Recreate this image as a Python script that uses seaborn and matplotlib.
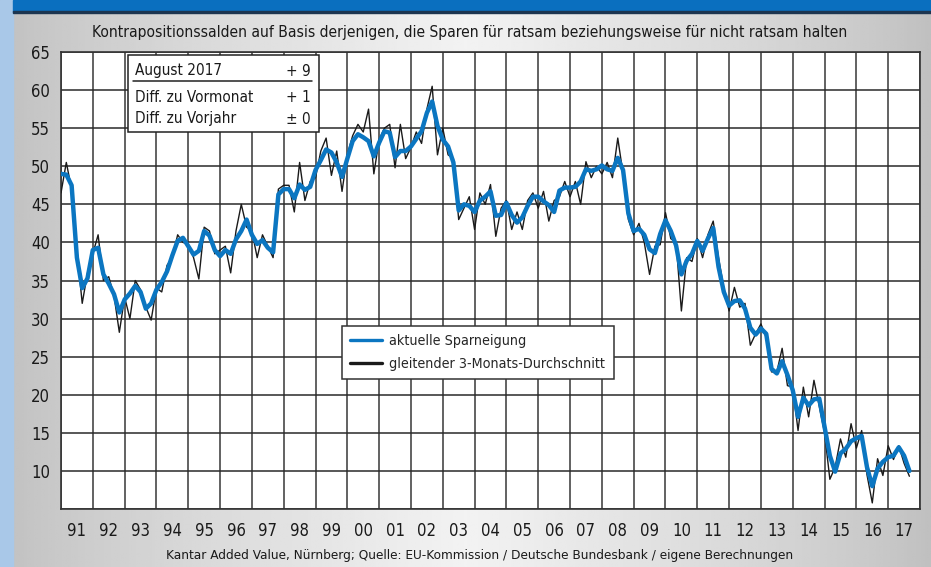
import matplotlib
matplotlib.use("Agg")
import matplotlib.pyplot as plt
import matplotlib.patches as mpatches
from matplotlib.lines import Line2D
import numpy as np
import pandas as pd
import seaborn as sns

# Werte alle 2 Monate ab Januar 1991
sparneigung = [
    49.0, 48.9, 47.5, 38.0, 34.0, 35.3, 39.0, 39.3, 35.8, 34.6, 33.2, 30.8,
    32.5, 33.3, 34.3, 33.5, 31.3, 32.0, 33.8, 34.8, 36.2, 38.3, 40.2, 40.6,
    39.5, 38.4, 38.9, 41.5, 40.9, 39.0, 38.2, 39.0, 38.5, 40.4, 41.5, 43.0,
    41.0, 39.8, 40.3, 39.3, 38.7, 46.3, 47.0, 47.0, 45.8, 47.6, 46.9, 47.3,
    49.5, 50.8, 52.2, 51.8, 50.5, 48.6, 51.0, 53.3, 54.2, 53.8, 53.3, 51.3,
    53.1, 54.6, 54.4, 51.2, 52.0, 52.0, 52.6, 53.6, 54.6, 57.0, 58.5, 55.3,
    53.5, 52.6, 50.5, 44.2, 45.0, 44.8, 44.0, 45.5, 46.0, 46.7, 43.5, 43.6,
    45.2, 43.6, 42.6, 43.3, 44.8, 46.0, 46.0, 45.4, 44.9, 44.0, 46.8, 47.2,
    47.2, 47.3, 48.0, 49.6, 49.4, 49.6, 50.1, 49.6, 49.4, 51.1, 49.5, 43.8,
    41.5, 41.8, 41.0, 39.1, 38.6, 41.1, 42.9, 41.5, 39.6, 35.8, 37.6, 38.5,
    40.2, 38.9, 40.5, 41.9, 36.8, 33.5, 31.7, 32.3, 32.4, 31.3, 28.8, 27.9,
    28.7, 28.0, 23.4, 22.8, 24.4, 22.6, 20.6, 17.1, 19.6, 18.6, 19.4, 19.5,
    15.8, 12.0, 9.9, 12.3, 12.9, 13.9, 14.3, 14.6, 10.5, 8.0, 10.3, 11.2,
    11.8, 12.0, 13.1, 12.0, 10.0,
]
durchschnitt = [
    46.5, 50.5, 47.0, 39.0, 32.0, 36.0, 38.5, 41.0, 35.0, 35.5, 33.0, 28.2,
    32.8, 30.0, 35.0, 33.8, 31.5, 29.8, 34.0, 33.5, 37.0, 38.0, 41.0, 40.0,
    39.8, 38.0, 35.2, 42.0, 41.5, 38.5, 39.0, 39.5, 36.0, 41.5, 45.0, 42.0,
    41.5, 38.0, 41.0, 39.5, 38.0, 47.0, 47.5, 47.5, 44.0, 50.5, 45.5, 48.0,
    48.5, 52.0, 53.7, 48.8, 52.0, 46.7, 51.5, 54.0, 55.5, 54.5, 57.5, 49.0,
    53.5, 55.0, 55.5, 49.8, 55.5, 51.0, 52.5, 54.5, 53.0, 57.5, 60.5, 51.5,
    55.0, 51.5, 51.0, 43.0, 44.5, 46.0, 41.7, 46.5, 45.0, 47.6, 40.8, 44.5,
    45.5, 41.7, 44.0, 41.7, 45.5, 46.5, 44.5, 46.7, 42.8, 45.5, 46.0, 48.0,
    46.0, 48.0, 45.0, 50.6, 48.5, 50.0, 49.0, 50.5, 48.5, 53.7, 49.0, 43.0,
    41.0, 42.5, 40.0, 35.8, 39.5, 39.7, 43.9, 40.5, 40.0, 31.0, 38.0, 37.5,
    40.5, 38.0, 41.0, 42.8, 38.0, 34.0, 31.0, 34.1, 31.5, 32.0, 26.5, 28.0,
    29.3, 27.5, 23.0, 23.0, 26.1, 21.2, 21.0, 15.3, 21.0, 17.1, 21.9, 18.5,
    15.0, 8.9, 10.5, 14.2, 11.8, 16.2, 13.0, 15.3, 9.5, 5.8, 11.6, 9.4,
    13.3, 11.5, 13.3, 11.0, 9.3,
]
jahre = ['91', '92', '93', '94', '95', '96', '97', '98', '99', '00', '01', '02',
         '03', '04', '05', '06', '07', '08', '09', '10', '11', '12', '13', '14',
         '15', '16', '17']
y_werte = [10, 15, 20, 25, 30, 35, 40, 45, 50, 55, 60, 65]

zeit = 1991 + np.arange(len(sparneigung)) / 6
df = pd.DataFrame({'zeit': zeit, 'aktuell': sparneigung, 'schnitt': durchschnitt})

sns.set_style("white")
plt.rcParams['font.family'] = ['DejaVu Sans']
plt.rcParams['font.stretch'] = 'condensed'

W, H = 931, 567
fig = plt.figure(figsize=(W / 100, H / 100), dpi=100)

def px(x, y):
    return x / W, 1 - y / H

# Hintergrund mit grauem Verlauf
bg = fig.add_axes([0, 0, 1, 1], zorder=-5)
u = np.linspace(0, 1, 400)
grau = 0.75 + 0.2 * (1 - np.abs(u - 0.5) * 2) ** 0.8
bg.imshow(np.tile(grau, (20, 1)), cmap='gray', vmin=0, vmax=1, aspect='auto',
          extent=[0, 1, 0, 1])
bg.set_axis_off()
fig.patches.append(mpatches.Rectangle((0, 0), 13 / W, 1, transform=fig.transFigure,
                                      color='#a9c8e8', zorder=-4))
fig.patches.append(mpatches.Rectangle((13 / W, 1 - 12 / H), 1, 12 / H,
                                      transform=fig.transFigure, color='#0a6fbf', zorder=-4))
fig.patches.append(mpatches.Rectangle((13 / W, 1 - 13 / H), 1, 1.5 / H,
                                      transform=fig.transFigure, color='#1c3550', zorder=-4))

ax = fig.add_axes([61 / W, 1 - 509 / H, 859 / W, 457 / H])
ax.set_facecolor('white')

sns.lineplot(data=df, x='zeit', y='schnitt', color='#1a1a1a', lw=1.0, ax=ax, zorder=3)
sns.lineplot(data=df, x='zeit', y='aktuell', color='#0b76c1', lw=3.2, ax=ax, zorder=4)

ax.set_xlim(1991, 2018)
ax.set_ylim(5, 65)
ax.set_xticks(np.arange(1991, 2019))
ax.set_xticklabels([])
ax.set_xticks(np.arange(1991, 2018) + 0.5, minor=True)
ax.set_xticklabels(jahre, minor=True)
ax.set_yticks([5] + y_werte)
ax.set_yticklabels([''] + [str(v) for v in y_werte])
ax.tick_params(axis='both', which='both', length=0, labelsize=12, colors='#1a1a1a')
ax.tick_params(axis='y', pad=8)
ax.tick_params(axis='x', which='minor', pad=9)
ax.grid(axis='x', which='major', color='#555555', lw=1.3, zorder=0)
ax.grid(axis='y', which='major', color='#2a2a2a', lw=1.1, zorder=0)
ax.set_xlabel('')
ax.set_ylabel('')
for s in ax.spines.values():
    s.set_color('#333333')
    s.set_linewidth(1.2)

# Legende
handles = [Line2D([], [], color='#0b76c1', lw=2.4),
           Line2D([], [], color='#1a1a1a', lw=2.4)]
leg = ax.legend(handles, ['aktuelle Sparneigung', 'gleitender 3-Monats-Durchschnitt'],
                loc='upper left', bbox_to_anchor=(0.327, 0.401), fontsize=10.3,
                fancybox=False, framealpha=1, edgecolor='#333333', borderaxespad=0,
                handlelength=2.2, handletextpad=0.5, borderpad=0.6, labelspacing=0.6)
leg.get_frame().set_linewidth(1.1)
leg.set_zorder(10)

# Infokasten oben links
fig.patches.append(mpatches.Rectangle(px(128, 132), 191 / W, 77 / H, transform=fig.transFigure,
                                      facecolor='white', edgecolor='#222222', lw=1.1, zorder=5))
fig.lines.append(Line2D([133 / W, 312 / W], [1 - 81 / H, 1 - 81 / H], transform=fig.transFigure,
                        color='#222222', lw=1.1, zorder=6))
zeilen = [('August 2017', '+ 9', 71), ('Diff. zu Vormonat', '+ 1', 98),
          ('Diff. zu Vorjahr', '± 0', 119)]
for links, rechts, yy in zeilen:
    fig.text(*px(135, yy), links, fontsize=11, va='center', ha='left', color='#1a1a1a', zorder=7)
    fig.text(*px(311, yy), rechts, fontsize=11, va='center', ha='right', color='#1a1a1a', zorder=7)

fig.text(*px(470, 33), 'Kontrapositionssalden auf Basis derjenigen, die Sparen für ratsam '
         'beziehungsweise für nicht ratsam halten', fontsize=11.2, ha='center', va='center',
         color='#1a1a1a')
fig.text(*px(480, 556), 'Kantar Added Value, Nürnberg; Quelle: EU-Kommission / Deutsche '
         'Bundesbank / eigene Berechnungen', fontsize=9.7, ha='center', va='center',
         color='#1a1a1a')

fig.savefig('out.png', dpi=100)
